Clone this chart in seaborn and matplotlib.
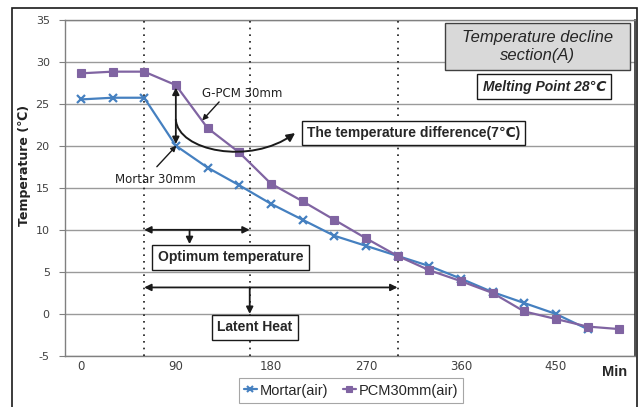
import matplotlib
matplotlib.use("Agg")
import numpy as np
import pandas as pd
import seaborn as sns
import matplotlib.pyplot as plt
from matplotlib.patches import FancyArrowPatch, Rectangle
from matplotlib.path import Path
from matplotlib.lines import Line2D

# ---------------- data ----------------
minutes = list(range(0, 540, 30))
mortar = [25.5, 25.7, 25.7, 20.0, 17.4, 15.3, 13.1, 11.2, 9.3, 8.1, 6.9,
          5.7, 4.2, 2.6, 1.3, 0.0, -1.8]
pcm = [28.6, 28.8, 28.8, 27.2, 22.1, 19.2, 15.5, 13.4, 11.2, 9.0, 6.9,
       5.2, 3.9, 2.5, 0.3, -0.6, -1.5, -1.8]
series_names = ["Mortar(air)", "PCM30mm(air)"]
series_colors = ["#4580c0", "#8064a2"]
series_markers = ["x", "s"]
xticks = [0, 90, 180, 270, 360, 450]
yticks = list(range(-5, 40, 5))
section_lines = [60, 160, 300]

sns.set_theme(style="white")
plt.rcParams["font.family"] = ["DejaVu Sans"]
plt.rcParams["axes.unicode_minus"] = False
LIB = ["Liberation Sans", "DejaVu Sans"]

frames = [
    pd.DataFrame({"Min": minutes[:len(mortar)], "Temp": mortar, "Series": series_names[0]}),
    pd.DataFrame({"Min": minutes[:len(pcm)], "Temp": pcm, "Series": series_names[1]}),
]

fig = plt.figure(figsize=(6.4, 4.07), dpi=100)
ax = fig.add_axes([65 / 640, 1 - 356 / 407, (635 - 65) / 640, (356 - 19.5) / 407])

for d, c, m in zip(frames, series_colors, series_markers):
    sns.lineplot(data=d, x="Min", y="Temp", color=c, marker=m, linewidth=1.6,
                 markersize=5.5, ax=ax, legend=False, zorder=5,
                 markeredgecolor=c, markerfacecolor=c,
                 markeredgewidth=1.6 if m == "x" else 0.8)

ax.set_xlim(-15, 525)
ax.set_ylim(-5, 35)
ax.set_xticks(xticks)
ax.set_yticks(yticks)
ax.set_xlabel("")
ax.set_ylabel("")
ax.yaxis.grid(True, color="#9a9a9a", lw=1.0)
ax.set_axisbelow(True)
for s in ["left", "bottom", "top"]:
    ax.spines[s].set_color("#808080")
    ax.spines[s].set_linewidth(1.0)
ax.spines["right"].set_color("#303030")
ax.spines["right"].set_linewidth(1.2)
ax.tick_params(axis="y", which="both", left=True, length=4, width=0.8,
               color="#808080", pad=7, labelsize=8, labelcolor="#404040")
ax.tick_params(axis="x", length=0, pad=3, labelsize=8.5, labelcolor="#404040")

# dotted section lines
ax.vlines(section_lines, -5, 35, colors="k", linestyles=(0, (1, 3)), lw=1.2, zorder=3)

arrow_kw = dict(color="k", lw=1.3, shrinkA=0, shrinkB=0, mutation_scale=10)

# vertical difference arrow
ax.annotate("", xy=(90, 26.9), xytext=(90, 20.2),
            arrowprops=dict(arrowstyle="<|-|>", **arrow_kw), zorder=6)

# curved arrow to difference label
curve = Path([(90, 23.1), (92, 19.4), (160, 17.6), (203, 21.5)],
             [Path.MOVETO, Path.CURVE4, Path.CURVE4, Path.CURVE4])
ax.add_patch(FancyArrowPatch(path=curve, arrowstyle="-|>", mutation_scale=12,
                             color="k", lw=1.4, zorder=6))
ax.text(315, 21.55, "The temperature difference(7\u2103)", ha="center", va="center",
        fontsize=10, fontweight="bold", family=LIB, zorder=7,
        bbox=dict(boxstyle="square,pad=0.35", fc="white", ec="k", lw=1.0))

# G-PCM label
ax.text(115, 26.2, "G-PCM 30mm", ha="left", va="center", fontsize=8.5,
        color="#222222", zorder=7)
ax.annotate("", xy=(115, 23.0), xytext=(131, 25.2),
            arrowprops=dict(arrowstyle="-|>", color="k", lw=1.0, shrinkA=0,
                            shrinkB=0, mutation_scale=8), zorder=6)

# Mortar label
ax.text(71, 15.95, "Mortar 30mm", ha="center", va="center", fontsize=8.5,
        color="#222222", zorder=7)
ax.annotate("", xy=(90.5, 20.0), xytext=(72, 17.5),
            arrowprops=dict(arrowstyle="-|>", color="k", lw=1.0, shrinkA=0,
                            shrinkB=0, mutation_scale=8), zorder=6)

# Optimum temperature
ax.annotate("", xy=(60, 10.0), xytext=(160, 10.0),
            arrowprops=dict(arrowstyle="<|-|>", **arrow_kw), zorder=6)
ax.annotate("", xy=(103, 8.3), xytext=(103, 10.0),
            arrowprops=dict(arrowstyle="-|>", **arrow_kw), zorder=6)
ax.text(142, 6.75, "Optimum temperature", ha="center", va="center",
        fontsize=10, fontweight="bold", family=LIB, zorder=7,
        bbox=dict(boxstyle="square,pad=0.4", fc="white", ec="k", lw=1.0))

# Latent heat
ax.annotate("", xy=(60, 3.15), xytext=(300, 3.15),
            arrowprops=dict(arrowstyle="<|-|>", **arrow_kw), zorder=6)
ax.annotate("", xy=(160, 0.0), xytext=(160, 3.15),
            arrowprops=dict(arrowstyle="-|>", **arrow_kw), zorder=6)
ax.text(165, -1.6, "Latent Heat", ha="center", va="center",
        fontsize=10, fontweight="bold", family=LIB, zorder=7,
        bbox=dict(boxstyle="square,pad=0.4", fc="white", ec="k", lw=1.0))

# Section box
ax.add_patch(Rectangle((345.4, 28.96), 174.8, 5.64, fc="#d9d9d9", ec="#404040",
                       lw=1.0, zorder=7))
ax.text(432.8, 31.8, "Temperature decline\nsection(A)", ha="center", va="center",
        fontsize=12, fontstyle="italic", family=LIB, linespacing=1.2, zorder=8)
ax.text(439, 27.0, "Melting Point 28\u2103", ha="center", va="center",
        fontsize=10, fontweight="bold", fontstyle="italic", family=LIB, zorder=8,
        bbox=dict(boxstyle="square,pad=0.4", fc="white", ec="k", lw=1.0))

# axis label texts
fig.text(25 / 640, 1 - 165 / 407, "Temperature (\u2103)", rotation=90,
         ha="center", va="center", fontsize=9, fontweight="bold", color="#222222")
fig.text(615 / 640, 1 - 372 / 407, "Min", ha="center", va="center",
         fontsize=10.5, fontweight="bold", family=LIB)

# legend
handles = [Line2D([0], [0], color=c, marker=m, lw=1.6, markersize=5,
                  markeredgewidth=1.5 if m == "x" else 0.8, markeredgecolor=c)
           for c, m in zip(series_colors, series_markers)]
leg = fig.legend(handles, series_names, loc="center", bbox_to_anchor=(351 / 640, 1 - 390.5 / 407),
                 ncol=2, frameon=True, fancybox=False, edgecolor="#909090",
                 handlelength=0.9, handletextpad=0.2, columnspacing=1.0,
                 borderpad=0.35, prop={"family": LIB, "size": 10.5})
leg.get_frame().set_linewidth(0.8)

# outer chart border
fig.patches.append(Rectangle((12 / 640, -0.02), (637 - 12) / 640, 1 - 8 / 407 + 0.02,
                             transform=fig.transFigure, fill=False, ec="k", lw=1.2))

fig.savefig("out.png", dpi=100)
